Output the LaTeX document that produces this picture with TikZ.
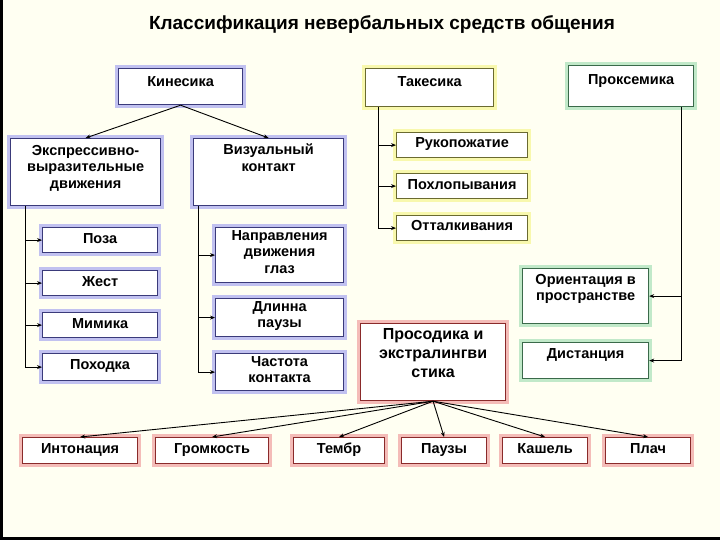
\documentclass[tikz,border=0pt]{standalone}
\usepackage{fontspec}
\setmainfont{Liberation Sans}
\usetikzlibrary{arrows.meta}
\definecolor{bgc}{HTML}{FFFFF2}
\definecolor{bb}{HTML}{3A3A7A}\definecolor{bh}{HTML}{A8A8F0}
\definecolor{yb}{HTML}{6A6A30}\definecolor{yh}{HTML}{F6F690}
\definecolor{gb}{HTML}{3A6A4A}\definecolor{gh}{HTML}{A8E0B8}
\definecolor{rb}{HTML}{8A2A2A}\definecolor{rh}{HTML}{F0A0A0}
\tikzset{
 bx/.style n args={2}{draw=#1,line width=1.2pt,fill=white,inner sep=0pt,anchor=north west,
   preaction={draw=#2,line width=7pt,opacity=0.7}},
 kb/.style={bx={bb}{bh}}, tb/.style={bx={yb}{yh}}, pb/.style={bx={gb}{gh}}, rbx/.style={bx={rb}{rh}},
 txt/.style={font=\bfseries\fontsize{14.5}{16.5}\selectfont,align=center,anchor=north,inner sep=0pt,
   execute at begin node=\rule{0pt}{11pt}},
 ln/.style={draw=black,line width=0.9pt},
 ar/.style={ln,-{Stealth[length=5pt,width=4pt]}}
}
\newcommand{\bxn}[8][5]{\node[#2,minimum width=#5pt-#3pt,minimum height=#6pt-#4pt] (#7) at (#3,#4) {};
 \node[txt] (#7t) at ([yshift=-#1pt]#7.north) {#8};}
\begin{document}
\begin{tikzpicture}[x=1pt,y=-1pt]
\fill[bgc] (0,0) rectangle (720,540);
\fill[black] (0,0) rectangle (3,540);
\fill[black] (0,537) rectangle (720,540);
\useasboundingbox (0,0) rectangle (720,540);
\node[font=\bfseries\fontsize{19}{21}\selectfont] (title) at (382,25) {Классификация невербальных средств общения};
\bxn[7]{kb}{118}{68}{242}{104}{kin}{Кинесика}
\bxn[7]{tb}{365}{68}{493}{106}{tak}{Такесика}
\bxn[8]{pb}{568}{65}{693}{106}{pro}{Проксемика}
\bxn[7]{kb}{10}{138}{160}{205}{eks}{Экспрессивно-\\выразительные\\движения}
\bxn[6]{kb}{193}{138}{343}{205}{viz}{Визуальный\\контакт}
\bxn[5]{kb}{42}{227}{157}{252}{poz}{Поза}
\bxn[5]{kb}{42}{270}{157}{295}{zhe}{Жест}
\bxn[5]{kb}{42}{312}{157}{337}{mim}{Мимика}
\bxn[5]{kb}{42}{353}{157}{380}{pox}{Походка}
\bxn[3]{kb}{215}{227}{343}{282}{nap}{Направления\\движения\\глаз}
\bxn[3]{kb}{215}{298}{343}{336}{dli}{Длинна\\паузы}
\bxn[3]{kb}{215}{353}{343}{390}{cha}{Частота\\контакта}
\bxn[4]{tb}{396}{132}{527}{157}{ruk}{Рукопожатие}
\bxn[5]{tb}{396}{173}{527}{198}{poh}{Похлопывания}
\bxn[4]{tb}{396}{215}{527}{240}{ott}{Отталкивания}
\bxn[6]{pb}{522}{268}{648}{323}{ori}{Ориентация в\\пространстве}
\bxn[5]{pb}{522}{342}{648}{378}{dis}{Дистанция}
\node[rbx,minimum width=145pt,minimum height=77pt] (prs) at (360,323) {};
\node[txt,font=\bfseries\fontsize{16}{19}\selectfont] (prst) at ([yshift=-5pt]prs.north) {Просодика и\\экстралингви\\стика};
\bxn[5]{rbx}{22}{437}{137}{463}{int}{Интонация}
\bxn[5]{rbx}{155}{437}{268}{463}{gro}{Громкость}
\bxn[5]{rbx}{293}{437}{384}{463}{tem}{Тембр}
\bxn[5]{rbx}{401}{437}{486}{463}{pau}{Паузы}
\bxn[5]{rbx}{502}{437}{587}{463}{kas}{Кашель}
\bxn[5]{rbx}{605}{437}{690}{463}{pla}{Плач}
% kinesika
\draw[ar] (kin.south) -- (eks.north);
\draw[ar] (kin.south) -- (viz.north);
\draw[ln] (eks.south west) ++(15,0) coordinate (e0) -- (e0 |- pox.west);
\foreach \b in {poz,zhe,mim,pox} \draw[ar] (e0 |- \b.west) -- (\b.west);
\draw[ln] (viz.south west) ++(5,0) coordinate (v0) -- (v0 |- cha.west);
\foreach \b in {nap,dli,cha} \draw[ar] (v0 |- \b.west) -- (\b.west);
% takesika
\draw[ln] (tak.south west) ++(13,0) coordinate (t0) -- (t0 |- ott.west);
\foreach \b in {ruk,poh,ott} \draw[ar] (t0 |- \b.west) -- (\b.west);
% proksemika
\draw[ln] (pro.south east) ++(-13,0) coordinate (p0) -- (p0 |- dis.east);
\foreach \b in {ori,dis} \draw[ar] (p0 |- \b.east) -- (\b.east);
% prosodika
\foreach \b in {int,gro,tem,pau,kas,pla} \draw[ar] (prs.south) -- (\b.north);
\end{tikzpicture}
\end{document}
